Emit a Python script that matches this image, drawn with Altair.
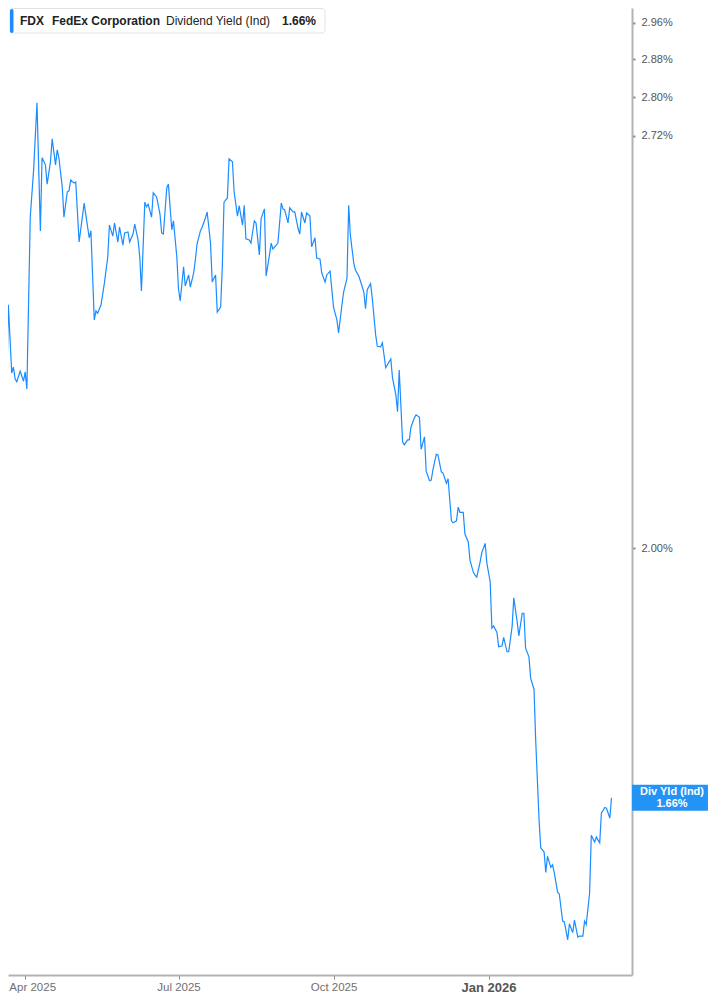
import altair as alt
import pandas as pd

# ---- data (FDX indicated dividend yield, %) ----
months = ["2025-03", "2025-04", "2025-05", "2025-06", "2025-07", "2025-08", "2025-09",
          "2025-10", "2025-11", "2025-12", "2026-01", "2026-02", "2026-03"]

days = [
    [17, 19, 21, 22, 24, 25, 26, 27, 29, 31],
    [1, 2, 4, 6, 8, 10, 11, 13, 14, 16, 17, 19, 20, 21, 23, 24, 26, 27, 28, 30],
    [1, 3, 6, 7, 9, 10, 12, 13, 14, 16, 18, 20, 21, 23, 24, 26, 27, 29, 30],
    [1, 2, 4, 5, 7, 8, 9, 11, 12, 13, 15, 16, 18, 20, 21, 22, 24, 25, 27, 28, 30],
    [1, 2, 4, 5, 7, 8, 10, 11, 12, 14, 15, 17, 18, 20, 21, 23, 24, 26, 27, 28, 30, 31],
    [2, 3, 5, 6, 8, 9, 10, 12, 13, 15, 16, 18, 19, 21, 22, 24, 25, 26, 28, 29, 31],
    [1, 2, 4, 5, 7, 8, 10, 11, 12, 14, 15, 17, 18, 20, 21, 23, 24, 26, 27, 29, 30],
    [1, 3, 4, 6, 7, 9, 10, 11, 13, 14, 16, 17, 19, 20, 21, 23, 24, 26, 27, 29, 30],
    [1, 2, 4, 5, 7, 8, 9, 11, 12, 14, 15, 16, 18, 19, 21, 22, 24, 25, 27, 28, 29],
    [1, 2, 4, 5, 7, 8, 10, 11, 13, 14, 15, 17, 18, 20, 21, 23, 24, 25, 27, 28, 30, 31],
    [2, 3, 4, 6, 7, 9, 10, 12, 13, 15, 16, 18, 19, 21, 22, 23, 25, 26, 28, 29, 30, 31],
    [1, 3, 4, 5, 7, 8, 9, 11, 12, 14, 15, 17, 18, 20, 21, 23, 24, 26, 27, 28],
    [2, 3, 5, 6, 8, 9, 11, 12, 14, 15],
]

yields = [
    [2.247, 2.237, 2.244, 2.398, 2.279, 2.289, 2.269, 2.264, 2.282, 2.265],
    [2.281, 2.252, 2.560, 2.652, 2.788, 2.534, 2.676, 2.662, 2.624, 2.668,
     2.714, 2.662, 2.692, 2.676, 2.618, 2.560, 2.609, 2.611, 2.632, 2.626],
    [2.628, 2.513, 2.587, 2.564, 2.521, 2.534, 2.371, 2.387, 2.383, 2.398,
     2.437, 2.485, 2.545, 2.524, 2.549, 2.513, 2.541, 2.507, 2.530],
    [2.532, 2.513, 2.528, 2.547, 2.517, 2.485, 2.423, 2.589, 2.580, 2.585,
     2.560, 2.607, 2.599, 2.566, 2.530, 2.528, 2.616, 2.624, 2.536, 2.553, 2.485],
    [2.426, 2.405, 2.467, 2.432, 2.452, 2.430, 2.456, 2.480, 2.509, 2.534, 2.541,
     2.559, 2.570, 2.511, 2.439, 2.452, 2.385, 2.394, 2.467, 2.589, 2.597, 2.674],
    [2.668, 2.609, 2.562, 2.582, 2.545, 2.583, 2.519, 2.517, 2.511, 2.553,
     2.549, 2.489, 2.557, 2.576, 2.450, 2.489, 2.511, 2.500, 2.507, 2.511, 2.587],
    [2.576, 2.574, 2.549, 2.578, 2.570, 2.570, 2.538, 2.528, 2.570, 2.549,
     2.568, 2.562, 2.504, 2.521, 2.483, 2.481, 2.456, 2.439, 2.452, 2.459, 2.425],
    [2.394, 2.371, 2.348, 2.398, 2.421, 2.446, 2.583, 2.526, 2.474, 2.461,
     2.450, 2.441, 2.421, 2.391, 2.425, 2.436, 2.410, 2.345, 2.325, 2.324, 2.331],
    [2.288, 2.293, 2.303, 2.271, 2.242, 2.214, 2.284, 2.165, 2.160, 2.168,
     2.168, 2.189, 2.204, 2.209, 2.205, 2.153, 2.173, 2.118, 2.103, 2.104, 2.120],
    [2.145, 2.144, 2.117, 2.115, 2.099, 2.106, 2.041, 2.038, 2.041, 2.062, 2.054,
     2.054, 2.021, 2.009, 1.982, 1.964, 1.960, 1.957, 1.979, 1.993, 2.007, 1.978],
    [1.950, 1.884, 1.887, 1.878, 1.858, 1.859, 1.871, 1.851, 1.851, 1.886, 1.927,
     1.893, 1.873, 1.905, 1.905, 1.856, 1.844, 1.815, 1.800, 1.733, 1.682, 1.633],
    [1.599, 1.594, 1.570, 1.589, 1.576, 1.579, 1.570, 1.547, 1.545, 1.514,
     1.513, 1.493, 1.511, 1.501, 1.515, 1.496, 1.497, 1.497, 1.514, 1.510],
    [1.546, 1.614, 1.606, 1.612, 1.605, 1.641, 1.648, 1.647, 1.635, 1.66],
]

x_tick_dates = [(2025, 4, 1), (2025, 7, 1), (2025, 10, 1), (2026, 1, 1)]
y_tick_values = [2.00, 2.72, 2.80, 2.88, 2.96]

ticker = "FDX"
company = "FedEx Corporation"
metric = "Dividend Yield (Ind)"
latest_value = 1.66
latest_text = "1.66%"
badge_title = "Div Yld (Ind)"

# ---- build tables ----
rows = [{"date": f"{m}-{d:02d}", "yld": v}
        for m, ds, vs in zip(months, days, yields)
        for d, v in zip(ds, vs)]
df = pd.DataFrame(rows)
ann = pd.DataFrame({"yld": [latest_value], "title": [badge_title], "val": [latest_text]})

W, H = 624, 967
LINE_BLUE = "#1a8cff"
BADGE_BLUE = "#2393f5"
AXIS_GRAY = "#b3b3b3"
FONT = "Liberation Sans"

x_scale = alt.Scale(domain=[alt.DateTime(year=2025, month=3, date=21, hours=19),
                            alt.DateTime(year=2026, month=3, date=27, hours=4)])
y_scale = alt.Scale(type="log", domain=[1.4543, 2.9925], nice=False)

x_axis = alt.Axis(
    values=[alt.DateTime(year=y, month=m, date=d) for (y, m, d) in x_tick_dates],
    format="%b %Y", grid=False, title=None,
    domainColor=AXIS_GRAY, domainWidth=2,
    tickColor="#8a8a8a", tickSize=4, tickWidth=1,
    labelFont=FONT, labelPadding=2, labelFlush=False, labelOverlap=False,
    labelFontSize={"expr": "month(datum.value) == 0 ? 13 : 11.5"},
    labelFontWeight={"expr": "month(datum.value) == 0 ? 'bold' : 'normal'"},
    labelColor={"expr": "month(datum.value) == 0 ? '#555555' : '#6f6f6f'"},
    labelOffset={"expr": "month(datum.value) == 3 ? 7 : 0"},
)
y_axis = alt.Axis(
    orient="right", values=y_tick_values, grid=False, title=None,
    labelExpr="format(datum.value, '.2f') + '%'",
    domainColor=AXIS_GRAY, domainWidth=2,
    tickColor="#8a8a8a", tickSize=3, tickWidth=2,
    labelFont=FONT, labelFontSize=11, labelColor="#555555", labelPadding=6,
    labelOverlap=False, labelFlush=False,
)

line = alt.Chart(df).mark_line(color=LINE_BLUE, strokeWidth=1.2, clip=True).encode(
    x=alt.X("date:T", scale=x_scale, axis=x_axis),
    y=alt.Y("yld:Q", scale=y_scale, axis=y_axis),
)

# legend box (top-left)
box = alt.Chart(ann).mark_rect(fill="white", stroke="#e2e2e2", strokeWidth=1, cornerRadius=3).encode(
    x=alt.value(2), x2=alt.value(317), y=alt.value(0.5), y2=alt.value(25)
)
bar = alt.Chart(ann).mark_rect(fill=LINE_BLUE, cornerRadius=2).encode(
    x=alt.value(2), x2=alt.value(5.5), y=alt.value(1), y2=alt.value(25)
)

def legend_text(txt, xpos, weight):
    return alt.Chart(ann).mark_text(
        text=txt, font=FONT, fontSize=12, fontWeight=weight, color="#222222",
        align="left", baseline="middle"
    ).encode(x=alt.value(xpos), y=alt.value(12.5))

t1 = legend_text(ticker, 12, "bold")
t2 = legend_text(company, 44, "bold")
t3 = legend_text(metric, 158, "normal")
t4 = legend_text(latest_text, 274, "bold")

# latest value badge on the right axis
badge = alt.Chart(ann).mark_point(
    shape="M-2.92,-1H2.92V1H-2.92Z", size=676, filled=True, opacity=1,
    color=BADGE_BLUE, strokeWidth=0
).encode(x=alt.value(662), y=alt.Y("yld:Q", scale=y_scale))
badge_t1 = alt.Chart(ann).mark_text(
    font=FONT, fontSize=11, fontWeight="bold", color="white", dy=-5.5, align="center"
).encode(x=alt.value(664), y=alt.Y("yld:Q", scale=y_scale), text="title:N")
badge_t2 = alt.Chart(ann).mark_text(
    font=FONT, fontSize=11, fontWeight="bold", color="white", dy=6.5, align="center"
).encode(x=alt.value(664), y=alt.Y("yld:Q", scale=y_scale), text="val:N")

chart = alt.layer(line, box, bar, t1, t2, t3, t4, badge, badge_t1, badge_t2).properties(
    width=W, height=H, padding=0
).configure_view(strokeWidth=0)

chart.save("out.html", embed_options={"renderer": "svg", "actions": False})
